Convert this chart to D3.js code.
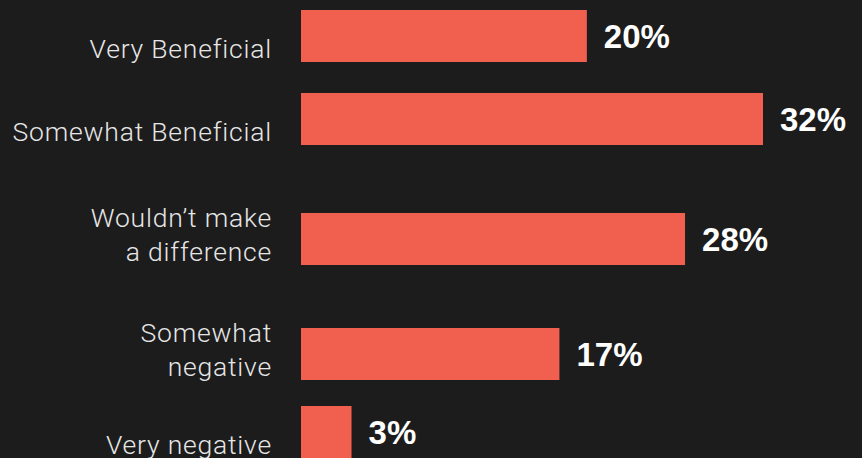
<!DOCTYPE html>
<html lang="en">
    <head>
        <meta charset="utf-8">
        <style>
            body { margin: 0; background: #1c1c1c; }
        </style>
    </head>
    <body>

        <svg id="mysvg" width="862" height="458"></svg>

        <script src="https://cdn.jsdelivr.net/npm/d3@7/dist/d3.min.js"></script>

        <script>
            // answers, top to bottom (\n = line break in the label)
            var categories = [
                "Very Beneficial",
                "Somewhat Beneficial",
                "Wouldn\u2019t make\na difference",
                "Somewhat\nnegative",
                "Very negative"
            ];
            // bar lengths (percent)
            var shares = [19.8, 32, 26.6, 17.9, 3.5];
            // printed labels
            var shareLabels = ["20%", "32%", "28%", "17%", "3%"];

            var width = 862, height = 458;
            var barLeft = 301, barRight = 763;
            var barHeight = 52;
            var rowGap = 31, extraLineGap = 37, prevLineShrink = 5;
            var lineHeight = 34;

            var svg = d3.select("#mysvg");

            svg.append("rect")
                .attr("width", width)
                .attr("height", height)
                .attr("fill", "#1c1c1c");

            var x = d3.scaleLinear()
                .domain([0, d3.max(shares)])
                .range([barLeft, barRight]);

            // rows with two-line labels get more room above them
            var lines = categories.map(function(c){ return c.split("\n"); });
            var tops = [];
            var cur = 10;
            lines.forEach(function(l, i){
                if(i > 0){
                    cur += barHeight + rowGap
                        + (l.length - 1) * extraLineGap
                        - (lines[i - 1].length - 1) * prevLineShrink;
                }
                tops.push(cur);
            });
            var y = d3.scaleOrdinal()
                .domain(categories)
                .range(tops);

            var rows = svg.selectAll("g.row")
                .data(categories)
                .enter()
                .append("g")
                .attr("class", "row");

            rows.append("rect")
                .attr("x", x(0))
                .attr("y", function(d){ return y(d); })
                .attr("width", function(d, i){ return x(shares[i]) - x(0); })
                .attr("height", barHeight)
                .attr("fill", "#f15f4f");

            rows.append("text")
                .attr("x", function(d, i){ return x(shares[i]) + 17; })
                .attr("y", function(d){ return y(d) + barHeight / 2 + 12; })
                .attr("fill", "#ffffff")
                .attr("font-family", "'Liberation Sans', Arial, sans-serif")
                .attr("font-weight", "bold")
                .attr("font-size", "33px")
                .text(function(d, i){ return shareLabels[i]; });

            rows.each(function(d, i){
                var l = lines[i];
                var t = d3.select(this).append("text")
                    .attr("text-anchor", "end")
                    .attr("fill", "#e6e6e6")
                    .attr("font-family", "Roboto, 'Liberation Sans', sans-serif")
                    .attr("font-weight", 300)
                    .attr("font-size", "26.5px")
                    .attr("letter-spacing", "0.8px");
                var lastBase = y(d) + barHeight - 4;
                l.forEach(function(s, j){
                    t.append("tspan")
                        .attr("x", 272)
                        .attr("y", lastBase - (l.length - 1 - j) * lineHeight)
                        .text(s);
                });
            });
        </script>

    </body>
</html>
